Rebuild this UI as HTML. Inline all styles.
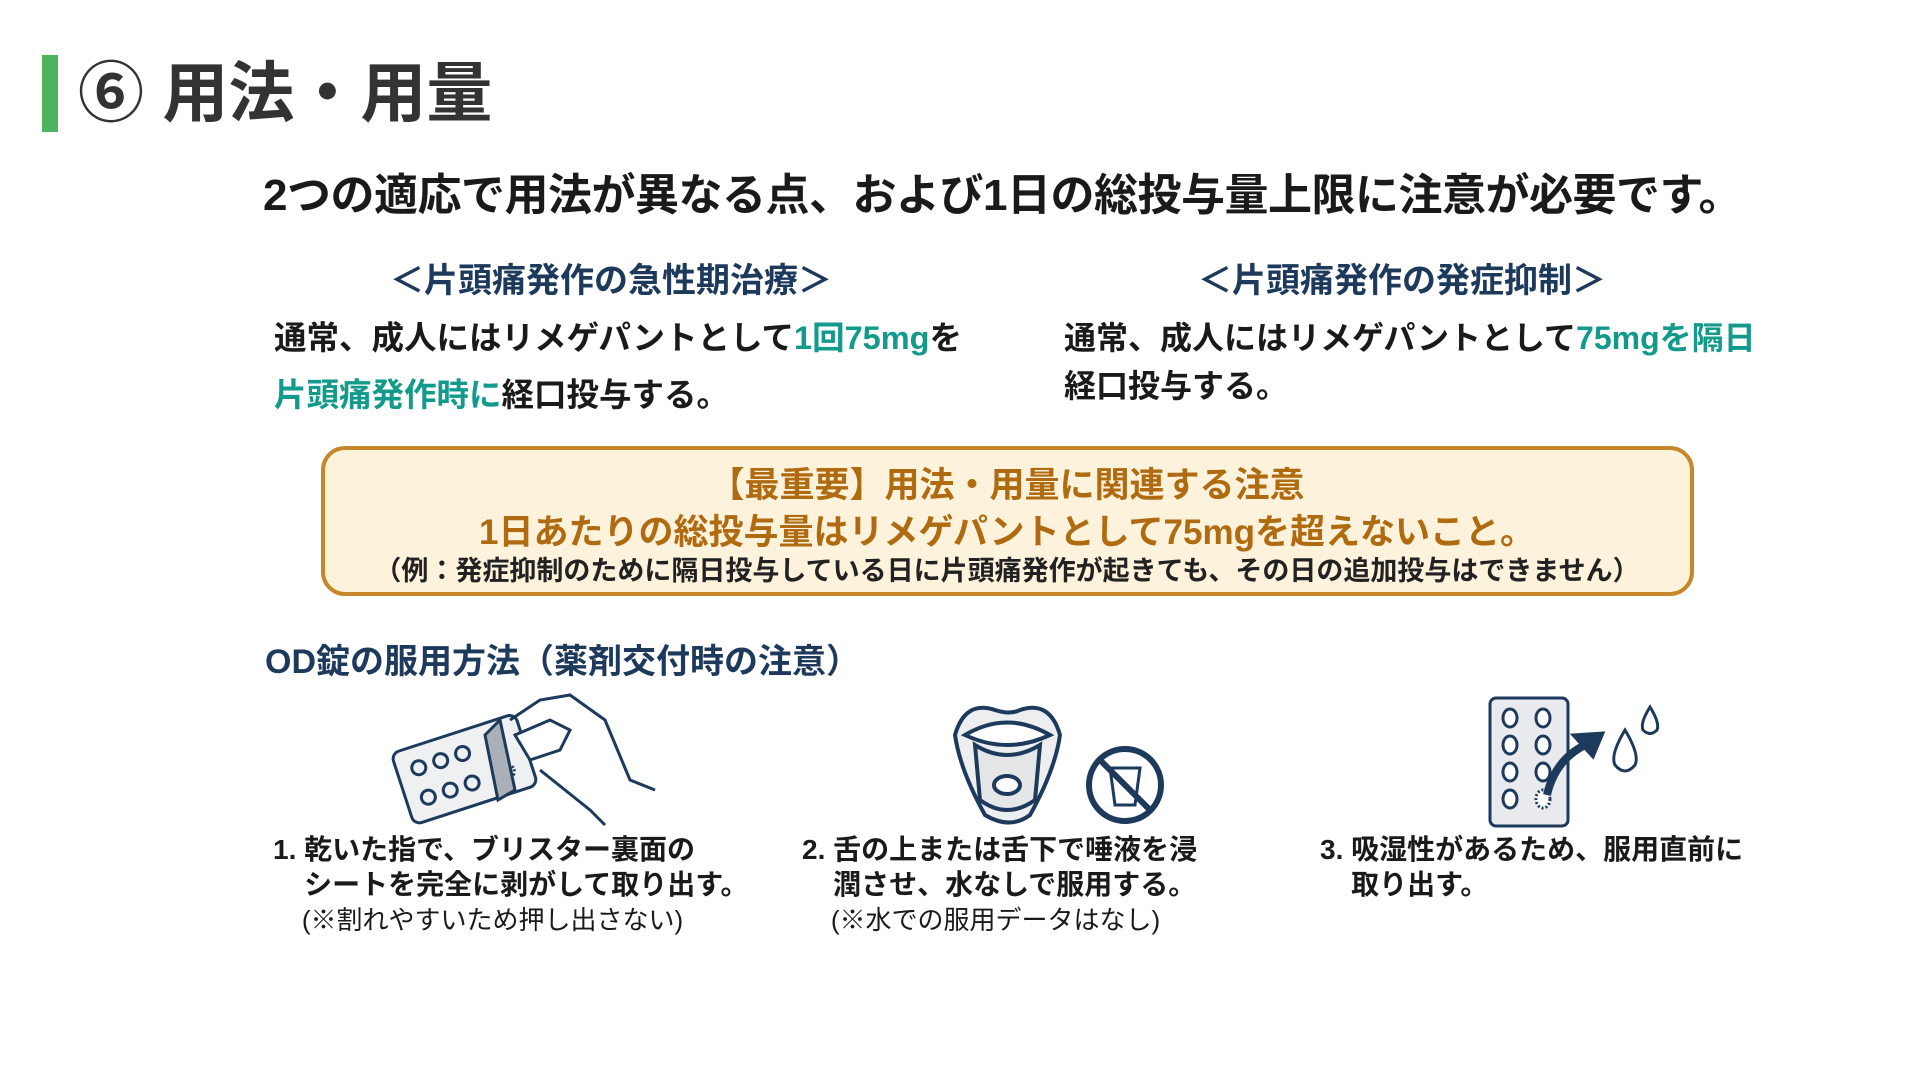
<!DOCTYPE html>
<html><head><meta charset="utf-8"><style>
body{margin:0;width:1920px;height:1080px;background:#fff;position:relative;overflow:hidden;font-family:"Liberation Sans","Noto Sans CJK JP",sans-serif;font-weight:bold;}
.a{position:absolute;white-space:nowrap;line-height:1;}
.navy{color:#1d3a5c}
.teal{color:#129b8a}
.br{color:#b06a0f}
</style></head><body>
<div class="a" style="left:42px;top:55px;width:16px;height:77px;background:#4cb35f"></div>
<div class="a" style="left:78px;top:60px;font-size:66px;color:#333">⑥ 用法・用量</div>
<div class="a" style="left:263px;top:174px;font-size:44px;color:#1a1a1a;letter-spacing:-0.5px">2つの適応で用法が異なる点、および1日の総投与量上限に注意が必要です。</div>

<div class="a navy" style="left:390px;top:264px;font-size:34px">＜片頭痛発作の急性期治療＞</div>
<div class="a navy" style="left:1198px;top:264px;font-size:34px">＜片頭痛発作の発症抑制＞</div>

<div class="a" style="left:274px;top:322px;font-size:32.5px;color:#1a1a1a">通常、成人にはリメゲパントとして<span class="teal">1回75mg</span>を</div>
<div class="a" style="left:274px;top:379px;font-size:32.5px;color:#1a1a1a"><span class="teal">片頭痛発作時に</span>経口投与する。</div>
<div class="a" style="left:1064px;top:322px;font-size:32px;color:#1a1a1a">通常、成人にはリメゲパントとして<span class="teal">75mgを隔日</span></div>
<div class="a" style="left:1064px;top:370px;font-size:32px;color:#1a1a1a">経口投与する。</div>

<div class="a" style="left:321px;top:446px;width:1373px;height:150px;box-sizing:border-box;border:4px solid #c8862a;border-radius:24px;background:#fdf2dc"></div>
<div class="a br" style="left:0;width:2014px;text-align:center;top:468px;font-size:35px">【最重要】用法・用量に関連する注意</div>
<div class="a br" style="left:0;width:2014px;text-align:center;top:515px;font-size:35px">1日あたりの総投与量はリメゲパントとして75mgを超えないこと。</div>
<div class="a" style="left:0;width:2014px;text-align:center;top:558px;font-size:27px;color:#222">（例：発症抑制のために隔日投与している日に片頭痛発作が起きても、その日の追加投与はできません）</div>

<div class="a navy" style="left:265px;top:645px;font-size:34px">OD錠の服用方法（薬剤交付時の注意）</div>

<!-- icon 1 -->
<svg class="a" style="left:390px;top:690px" width="275" height="140" viewBox="0 0 275 140" fill="none" stroke="#1d3a5c" stroke-width="3">
<g transform="rotate(-18 80 80)"><rect x="10" y="40" width="130" height="75" rx="8" fill="#eef0f2"/>
<circle cx="32" cy="62" r="7"/><circle cx="55" cy="62" r="7"/><circle cx="78" cy="62" r="7"/><circle cx="32" cy="93" r="7"/><circle cx="55" cy="93" r="7"/><circle cx="78" cy="93" r="7"/><circle cx="115" cy="93" r="7" stroke-dasharray="2 2"/></g>
<path d="M95 45 L110 30 L125 100 L108 110 Z" fill="#aab0b8"/>
<path d="M120 30 L150 10 L180 5 L215 30 L240 90 L265 100" />
<path d="M125 45 L160 30 L180 40 L170 60 L140 70 Z" fill="#fff"/>
<path d="M150 80 L200 120 L215 135"/>
</svg>
<!-- icon 2 -->
<svg class="a" style="left:945px;top:690px" width="230" height="140" viewBox="0 0 230 140" fill="none" stroke="#1d3a5c" stroke-width="4">
<path d="M10 45 Q20 10 50 20 Q65 25 75 20 Q105 10 115 45 Q110 80 85 125 Q65 140 40 125 Q15 80 10 45Z" fill="#eceef0"/>
<path d="M20 45 Q62 20 105 45 Q62 65 20 45Z" fill="#fff"/>
<path d="M30 55 Q62 75 95 55 L90 110 Q62 130 35 110Z" fill="#e4e6e8"/>
<ellipse cx="62" cy="95" rx="13" ry="9" fill="#fff"/>
<circle cx="180" cy="95" r="36" stroke-width="6"/>
<path d="M165 78 L195 78 L190 115 L170 115 Z" stroke-width="3"/>
<line x1="155" y1="70" x2="205" y2="120" stroke-width="6"/>
</svg>
<!-- icon 3 -->
<svg class="a" style="left:1485px;top:695px" width="185" height="135" viewBox="0 0 185 135" fill="none" stroke="#1d3a5c" stroke-width="3">
<rect x="5" y="3" width="78" height="128" rx="6" fill="#e8eaed"/>
<g fill="#fff"><ellipse cx="25" cy="23" rx="7" ry="9"/><ellipse cx="58" cy="23" rx="7" ry="9"/><ellipse cx="25" cy="50" rx="7" ry="9"/><ellipse cx="58" cy="50" rx="7" ry="9"/><ellipse cx="25" cy="77" rx="7" ry="9"/><ellipse cx="58" cy="77" rx="7" ry="9"/><ellipse cx="25" cy="104" rx="7" ry="9"/><ellipse cx="58" cy="104" rx="7" ry="9" stroke-dasharray="2 2"/></g>
<path d="M62 100 Q70 65 100 50" stroke-width="8"/><path d="M88 40 L118 38 L108 62 Z" fill="#1d3a5c"/>
<path d="M140 35 Q125 60 130 70 Q140 82 150 70 Q155 60 140 35Z" fill="#fff"/>
<path d="M165 12 Q155 28 158 35 Q165 42 172 35 Q175 28 165 12Z" fill="#fff"/>
</svg>

<div class="a" style="left:273px;top:832px;font-size:28px;color:#1a1a1a;line-height:35px">1. 乾いた指で、ブリスター裏面の<br>&nbsp;&nbsp;&nbsp;&nbsp;シートを完全に剥がして取り出す。<br><span style="font-weight:normal;font-size:26px">&nbsp;&nbsp;&nbsp;&nbsp;(※割れやすいため押し出さない)</span></div>
<div class="a" style="left:802px;top:832px;font-size:28px;color:#1a1a1a;line-height:35px">2. 舌の上または舌下で唾液を浸<br>&nbsp;&nbsp;&nbsp;&nbsp;潤させ、水なしで服用する。<br><span style="font-weight:normal;font-size:26px">&nbsp;&nbsp;&nbsp;&nbsp;(※水での服用データはなし)</span></div>
<div class="a" style="left:1320px;top:832px;font-size:28px;color:#1a1a1a;line-height:35px">3. 吸湿性があるため、服用直前に<br>&nbsp;&nbsp;&nbsp;&nbsp;取り出す。</div>
</body></html>
